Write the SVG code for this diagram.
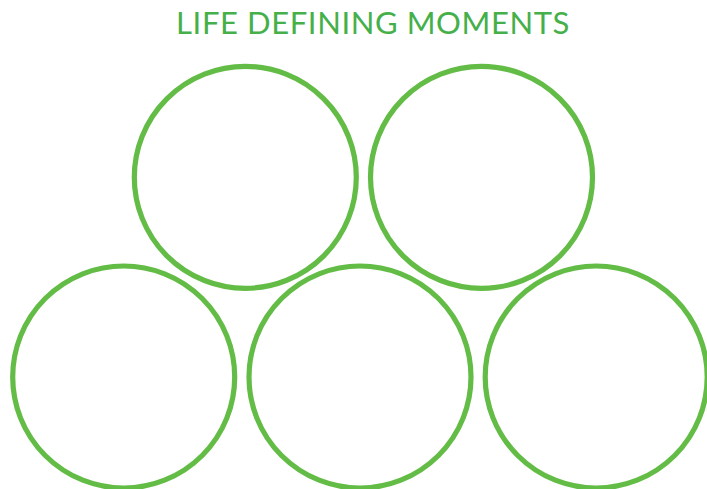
<svg xmlns="http://www.w3.org/2000/svg" width="707" height="489" viewBox="0 0 707 489">
<style>
.ring{fill:none;stroke:#63bc46;stroke-width:5.2}
.title{font-family:Lato,"Liberation Sans",sans-serif;font-size:31px;letter-spacing:0.6px;fill:#45b04a}
</style>
<rect width="707" height="489" fill="#ffffff"/>
<text class="title" x="373" y="34.3" text-anchor="middle">LIFE DEFINING MOMENTS</text>
<g id="node-top-left"><circle class="ring" cx="245.3" cy="177.3" r="111"/></g>
<g id="node-top-right"><circle class="ring" cx="481.5" cy="177.3" r="111"/></g>
<g id="node-bottom-left"><circle class="ring" cx="123.7" cy="377" r="111"/></g>
<g id="node-bottom-middle"><circle class="ring" cx="360" cy="377" r="111"/></g>
<g id="node-bottom-right"><circle class="ring" cx="596.2" cy="377" r="111"/></g>
<g id="connectors"></g>
</svg>
